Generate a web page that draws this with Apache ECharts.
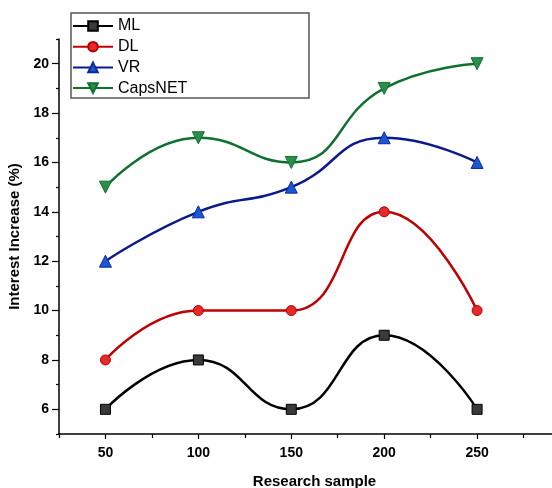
<!DOCTYPE html>
<html>
<head>
<meta charset="utf-8">
<script src="https://cdn.jsdelivr.net/npm/echarts@6/dist/echarts.min.js"></script>
<style>
  html, body { margin: 0; padding: 0; background: #fff; }
  #chart { width: 552px; height: 488px; }
</style>
</head>
<body>
<div id="chart"></div>
<script>
// research sample sizes (x) and interest increase (%) per method
const samples = [50, 100, 150, 200, 250]
const mlValues = [6, 8, 6, 9, 6]
const dlValues = [8, 10, 10, 14, 10]
const vrValues = [12, 14, 15, 17, 16]
const capsValues = [15, 17, 16, 19, 20]
const xTicks = [50, 100, 150, 200, 250]
const xMinorTicks = [25, 75, 125, 175, 225, 275]
const yTicks = [6, 8, 10, 12, 14, 16, 18, 20]
const yMinorTicks = [5, 7, 9, 11, 13, 15, 17, 19, 21]

const chart = echarts.init(document.getElementById('chart'))
const font = 'Liberation Sans, Arial, sans-serif'

function pairs (ys) {
  return samples.map((x, i) => [x, ys[i]])
}

function makeSeries (name, ys, lineColor, fill, border, symbol, size, rotate) {
  return {
    name: name,
    type: 'line',
    smooth: 0.5,
    data: pairs(ys),
    symbol: symbol,
    symbolSize: size,
    symbolRotate: rotate || 0,
    lineStyle: { color: lineColor, width: 2.5 },
    itemStyle: { color: fill, borderColor: border, borderWidth: 1 },
    z: 3
  }
}

const option = {
  backgroundColor: '#fff',
  animation: false,
  textStyle: { fontFamily: font },
  grid: { left: 59, top: 39, bottom: 54, width: 511, outerBoundsMode: 'none', containLabel: false },
  legend: {
    left: 72,
    top: 18,
    padding: 0,
    orient: 'vertical',
    itemWidth: 40,
    itemHeight: 12,
    itemGap: 4.7,
    textStyle: { fontSize: 16, lineHeight: 16, color: '#000', fontFamily: font },
    data: ['ML', 'DL', 'VR', 'CapsNET']
  },
  graphic: [{
    type: 'rect',
    shape: { x: 71, y: 13, width: 238, height: 85 },
    style: { fill: 'none', stroke: '#555', lineWidth: 1.5 },
    z: 10
  }],
  xAxis: [{
    type: 'value',
    min: 25,
    max: 300,
    name: 'Research sample',
    nameLocation: 'middle',
    nameGap: 40,
    nameTextStyle: { fontSize: 15, fontWeight: 'bold', color: '#000' },
    axisLine: { lineStyle: { color: '#000', width: 1.5 } },
    axisTick: { customValues: xTicks, length: 5, lineStyle: { color: '#000', width: 1.2 } },
    axisLabel: { customValues: xTicks, margin: 12, fontSize: 14, fontWeight: 'bold', color: '#000' },
    splitLine: { show: false }
  }, {
    type: 'value',
    min: 25,
    max: 300,
    position: 'bottom',
    axisLine: { show: false },
    axisTick: { customValues: xMinorTicks, length: 4, lineStyle: { color: '#000', width: 1.2 } },
    axisLabel: { show: false },
    splitLine: { show: false }
  }],
  yAxis: [{
    type: 'value',
    min: 5,
    max: 21,
    name: 'Interest Increase (%)',
    nameLocation: 'middle',
    nameGap: 30,
    nameTextStyle: { fontSize: 15, fontWeight: 'bold', color: '#000' },
    axisLine: { show: true, lineStyle: { color: '#000', width: 1.5 } },
    axisTick: { show: true, customValues: yTicks, length: 7, lineStyle: { color: '#000', width: 1.2 } },
    axisLabel: { customValues: yTicks, margin: 10, fontSize: 14, fontWeight: 'bold', color: '#000' },
    splitLine: { show: false }
  }, {
    type: 'value',
    min: 5,
    max: 21,
    position: 'left',
    axisLine: { show: false },
    axisTick: { show: true, customValues: yMinorTicks, length: 3, lineStyle: { color: '#000', width: 1.2 } },
    axisLabel: { show: false },
    splitLine: { show: false }
  }],
  series: [
    makeSeries('ML', mlValues, '#000000', '#3a3a3a', '#000000', 'rect', 10),
    makeSeries('DL', dlValues, '#c00000', '#e8282a', '#b00000', 'circle', 10),
    makeSeries('VR', vrValues, '#0a1a8c', '#1b57d0', '#0a2a9c', 'triangle', 12),
    makeSeries('CapsNET', capsValues, '#107030', '#2a8f4a', '#107030', 'triangle', 12, 180)
  ]
}

chart.setOption(option)
</script>
</body>
</html>
